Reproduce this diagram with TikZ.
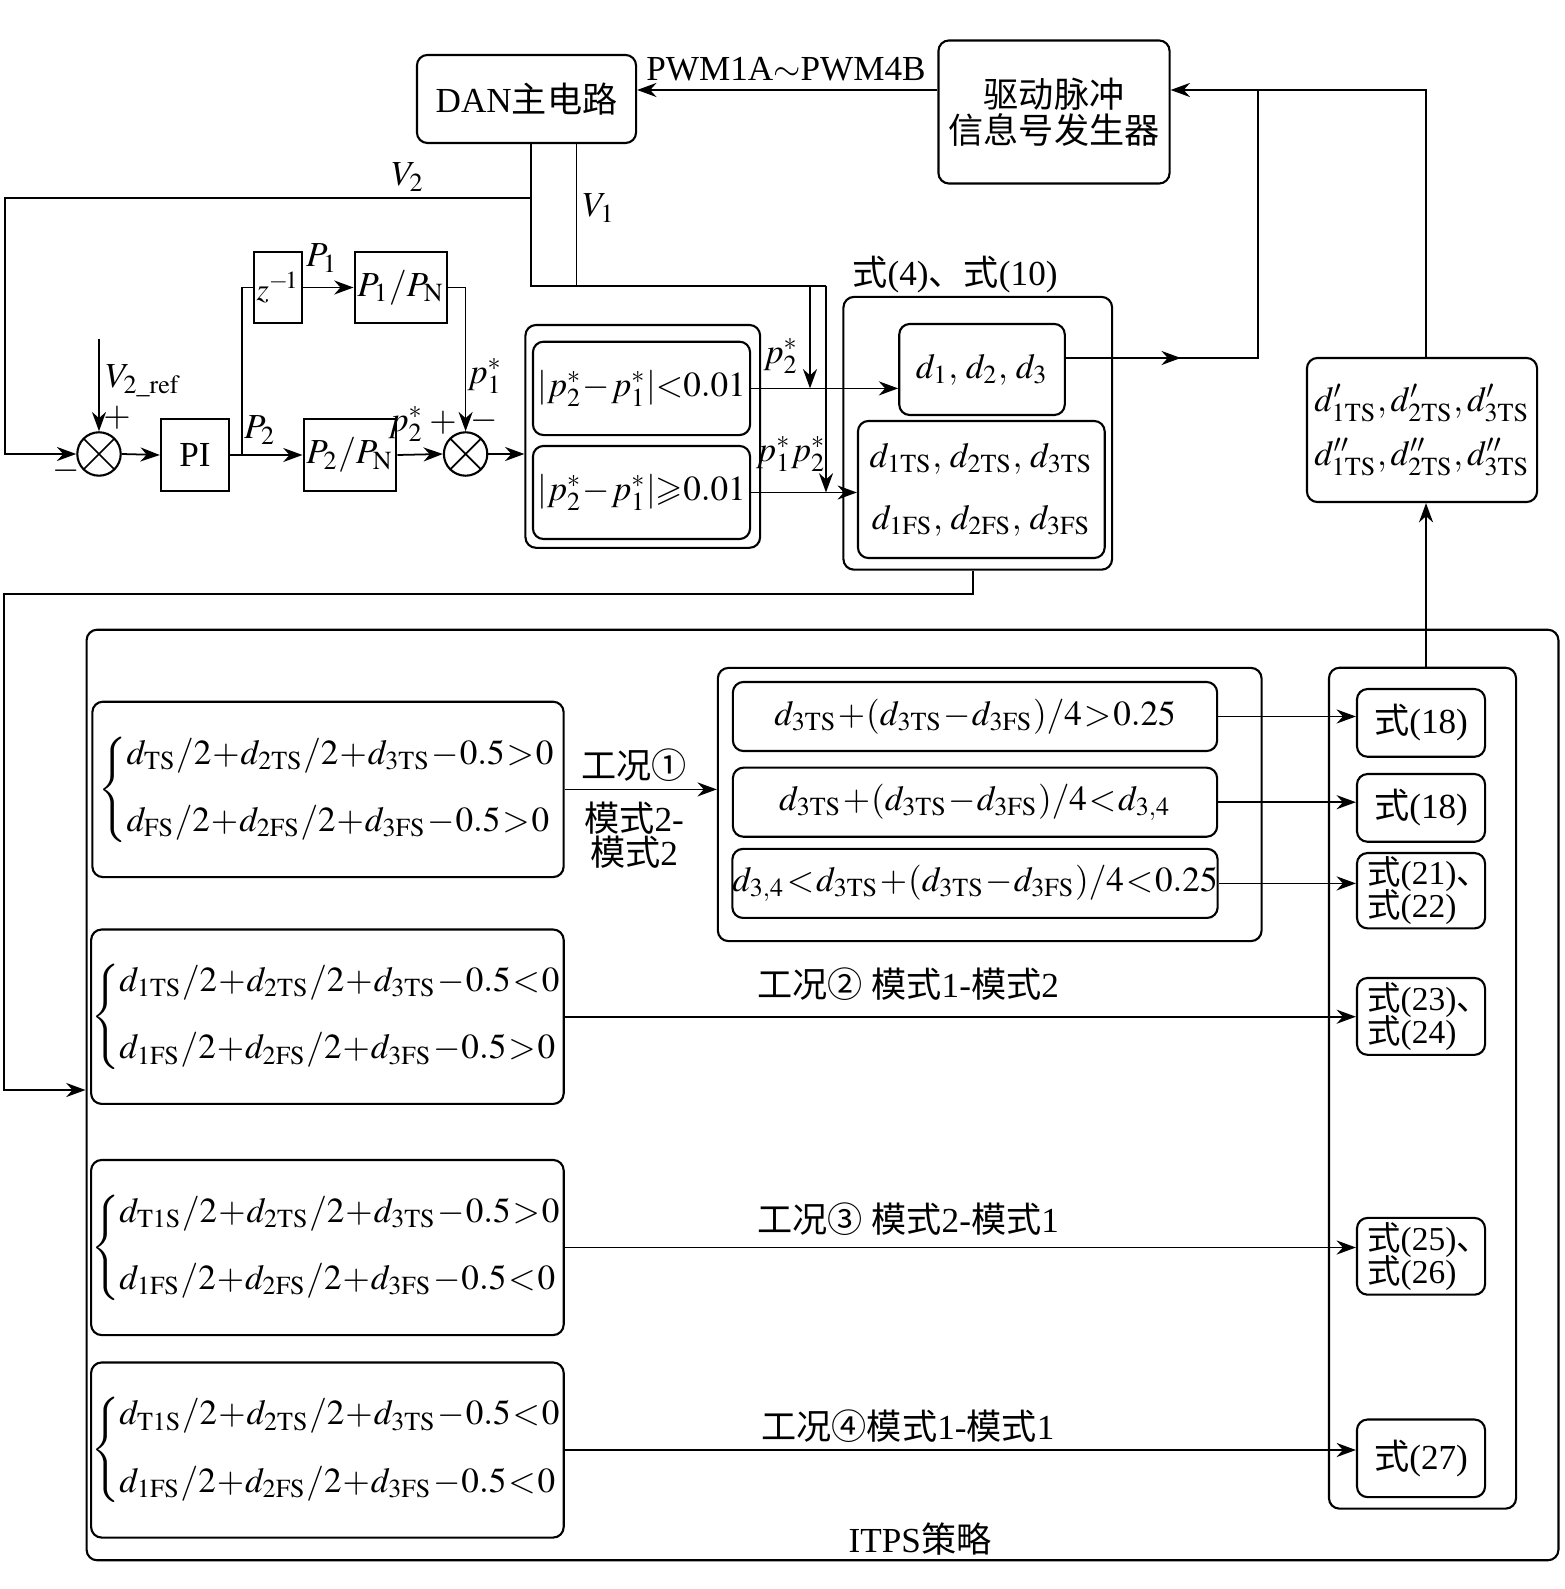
\documentclass[tikz,border=0pt]{standalone}
\usepackage{amsmath}
\usepackage{mathptmx}
\usepackage{amssymb}
\usepackage[no-math]{fontspec}
\setmainfont{Liberation Serif}
\newfontfamily\cjk{Noto Sans CJK SC}
\usetikzlibrary{arrows.meta, calc, positioning}

\newcommand{\zh}[1]{{\cjk #1}}
\newcommand{\rs}[1]{\mathrm{#1}}
\newcommand{\dun}{\makebox[0.55em][l]{\zh{、}}}
\newcommand{\tightmath}{\medmuskip=0.5mu\relax\thickmuskip=1mu\relax}

\tikzset{
  line/.style={line width=0.5pt},
  conn/.style={line width=0.5pt, -{Stealth[length=5.5pt, width=4pt]}},
  box/.style={draw, line width=0.6pt, inner sep=0pt, align=center},
  rbox/.style={box, rounded corners=3pt},
  eqbox/.style={rbox, minimum width=1.28cm, align=left, font=\fontsize{9.5pt}{10pt}\selectfont},
  sumnode/.style={draw, line width=0.6pt, circle, minimum size=0.434cm, inner sep=0pt,
    path picture={\draw[line width=0.5pt] (path picture bounding box.south west) -- (path picture bounding box.north east)
      (path picture bounding box.north west) -- (path picture bounding box.south east);}},
  lbl/.style={inner sep=1pt},
}

\begin{document}
\begin{tikzpicture}[x=0.01cm, y=-0.01cm, font=\fontsize{10pt}{12pt}\selectfont\tightmath]
\useasboundingbox (0,0) rectangle (1564,1589);

% top blocks
\node[rbox, minimum width=2.19cm, minimum height=0.88cm] (dan) at (526.5,99) {DAN\zh{主电路}};
\node[rbox, minimum width=2.31cm, minimum height=1.43cm] (drv) at (1054,112) {\zh{驱动脉冲}\\[-0.06cm]\zh{信息号发生器}};
\node[rbox, minimum width=2.30cm, minimum height=1.44cm] (dp) at (1422,430)
  {$d'_{1\rs{TS}}, d'_{2\rs{TS}}, d'_{3\rs{TS}}$\\[0.12cm]$d''_{1\rs{TS}}, d''_{2\rs{TS}}, d''_{3\rs{TS}}$};

% control loop
\node[sumnode] (sum1) at (99,454) {};
\node[box, minimum width=0.683cm, minimum height=0.72cm] (pi) at (195,455) {PI};
\node[box, minimum width=0.928cm, minimum height=0.72cm] (p2n) at (350,455) {$P_2/P_\rs{N}$};
\node[box, minimum width=0.48cm, minimum height=0.716cm, font=\fontsize{9pt}{10pt}\selectfont] (zinv) at (278,287.5) {$z^{-\!1}$};
\node[box, minimum width=0.924cm, minimum height=0.716cm] (p1n) at (400.8,287.5) {$P_1/P_\rs{N}$};
\node[sumnode] (sum2) at (465.6,454) {};

% conditions
\node[rbox, minimum width=2.345cm, minimum height=2.227cm] (cgrp) at (642.75,436.4) {};
\node[rbox, minimum width=2.17cm, minimum height=0.933cm] (clt) at (641.5,388.4) {$|p_2^*-p_1^*|{<}0.01$};
\node[rbox, minimum width=2.17cm, minimum height=0.93cm] (cge) at (641.5,492.5) {$|p_2^*-p_1^*|{\geqslant}0.01$};

% duty cycles
\node[rbox, minimum width=2.685cm, minimum height=2.726cm] (dgrp) at (977.75,433.3) {};
\node[lbl] (eqlbl) at (955,275) {\zh{式}(4)\zh{、式}(10)};
\node[rbox, minimum width=1.655cm, minimum height=0.91cm] (dabc) at (982,369.5) {$d_1,\, d_2,\, d_3$};
\node[rbox, minimum width=2.466cm, minimum height=1.37cm] (dts) at (981.3,489.5)
  {$d_{1\rs{TS}},\, d_{2\rs{TS}},\, d_{3\rs{TS}}$\\[0.2cm]$d_{1\rs{FS}},\, d_{2\rs{FS}},\, d_{3\rs{FS}}$};

% ITPS
\node[rbox, minimum width=14.71cm, minimum height=9.30cm] (itps) at (822.5,1095) {};
\node[lbl] (itpslbl) at (920,1539) {ITPS\zh{策略}};

\node[rbox, minimum width=4.71cm, minimum height=1.753cm] (caseA) at (328,789.4)
  {$\left\{\begin{array}{@{}l@{}}
    d_{\rs{TS}}/2+d_{2\rs{TS}}/2+d_{3\rs{TS}}-0.5>0\\[0.25cm]
    d_{\rs{FS}}/2+d_{2\rs{FS}}/2+d_{3\rs{FS}}-0.5>0\end{array}\right.$};
\node[rbox, minimum width=4.70cm, minimum height=1.743cm] (caseB) at (327.4,1016.7)
  {$\left\{\begin{array}{@{}l@{}}
    d_{1\rs{TS}}/2+d_{2\rs{TS}}/2+d_{3\rs{TS}}-0.5<0\\[0.25cm]
    d_{1\rs{FS}}/2+d_{2\rs{FS}}/2+d_{3\rs{FS}}-0.5>0\end{array}\right.$};
\node[rbox, minimum width=4.70cm, minimum height=1.75cm] (caseC) at (327.4,1247.5)
  {$\left\{\begin{array}{@{}l@{}}
    d_{\rs{T1S}}/2+d_{2\rs{TS}}/2+d_{3\rs{TS}}-0.5>0\\[0.25cm]
    d_{1\rs{FS}}/2+d_{2\rs{FS}}/2+d_{3\rs{FS}}-0.5<0\end{array}\right.$};
\node[rbox, minimum width=4.70cm, minimum height=1.75cm] (caseD) at (327.4,1450)
  {$\left\{\begin{array}{@{}l@{}}
    d_{\rs{T1S}}/2+d_{2\rs{TS}}/2+d_{3\rs{TS}}-0.5<0\\[0.25cm]
    d_{1\rs{FS}}/2+d_{2\rs{FS}}/2+d_{3\rs{FS}}-0.5<0\end{array}\right.$};

\node[rbox, minimum width=5.434cm, minimum height=2.73cm] (sgrp) at (989.7,804.5) {};
\node[rbox, minimum width=4.84cm, minimum height=0.69cm] (s1) at (975,716.5)
  {$d_{3\rs{TS}}+(d_{3\rs{TS}}-d_{3\rs{FS}})/4>0.25$};
\node[rbox, minimum width=4.84cm, minimum height=0.69cm] (s2) at (975,802.2)
  {$d_{3\rs{TS}}+(d_{3\rs{TS}}-d_{3\rs{FS}})/4<d_{3,4}$};
\node[rbox, minimum width=4.84cm, minimum height=0.69cm] (s3) at (975,883.4)
  {$d_{3,4}<d_{3\rs{TS}}+(d_{3\rs{TS}}-d_{3\rs{FS}})/4<0.25$};

\node[rbox, minimum width=1.87cm, minimum height=8.404cm] (fgrp) at (1422.5,1088.2) {};
\node[rbox, minimum width=1.28cm, minimum height=0.677cm] (f1) at (1421,722.9) {\zh{式}(18)};
\node[rbox, minimum width=1.28cm, minimum height=0.677cm] (f2) at (1421,807.9) {\zh{式}(18)};
\node[eqbox, minimum height=0.753cm] (f3) at (1421,890.7) {\zh{式}(21)\dun\\[-0.02cm]\zh{式}(22)};
\node[eqbox, minimum height=0.768cm] (f4) at (1421,1016.4) {\zh{式}(23)\dun\\[-0.02cm]\zh{式}(24)};
\node[eqbox, minimum height=0.767cm] (f5) at (1421,1256.3) {\zh{式}(25)\dun\\[-0.02cm]\zh{式}(26)};
\node[rbox, minimum width=1.28cm, minimum height=0.775cm] (f6) at (1421,1458.3) {\zh{式}(27)};

% labels
\node[lbl] (lpwm) at (786,69) {PWM1A$\sim$PWM4B};
\node[lbl] (lv2) at (408,177) {$V_2$};
\node[lbl] (lv1) at (599,208) {$V_1$};
\node[lbl] (lp1) at (322,258) {$P_1$};
\node[lbl] (lps1) at (485,376) {$p_1^*$};
\node[lbl] (lref) at (143,381) {$V_{2\_\rs{ref}}$};
\node[lbl] (lplus1) at (117,418) {$+$};
\node[lbl] (lminus1) at (66,471) {$-$};
\node[lbl] (lp2) at (260,430) {$P_2$};
\node[lbl] (lps2) at (406,424) {$p_2^*$};
\node[lbl] (lplus2) at (443,423) {$+$};
\node[lbl] (lminus2) at (484,421) {$-$};
\node[lbl] (lps2b) at (781,356) {$p_2^*$};
\node[lbl] (lps12) at (791,454) {$p_1^*p_2^*$};
\node[lbl] (lcase1) at (634,765) {\zh{工况①}};
\node[lbl] (lmode1) at (634,818) {\zh{模式}2-};
\node[lbl] (lmode1b) at (634,852) {\zh{模式}2};
\node[lbl] (lcase2) at (908,984) {\zh{工况②} \zh{模式}1-\zh{模式}2};
\node[lbl] (lcase3) at (908,1219) {\zh{工况③} \zh{模式}2-\zh{模式}1};
\node[lbl] (lcase4) at (908,1426) {\zh{工况④}\zh{模式}1-\zh{模式}1};

% bend points
\coordinate (drvin) at (1426,90);
\coordinate (dj) at (1258,90);
\coordinate (dout) at (1065,358);
\coordinate (v2j) at (531,198);
\coordinate (vbus) at (531,286);
\coordinate (v1x) at (576.5,286);
\coordinate (tapA) at (810,286);
\coordinate (tapB) at (826,286);
\coordinate (fbl) at (5,198);
\coordinate (vref) at (99,339);
\coordinate (br) at (242,454);
\coordinate (dgo) at (973,594);
\coordinate (fb2) at (4,594);
\coordinate (itin) at (4,1090);

% connectors
\draw[conn] (drv.west |- drvin) -- (dan.east |- drvin);
\draw[conn] (dp.north -| drvin) -- (drvin) -- (drv.east |- drvin);
\draw[conn] (dout) -- ($(dout)!0.6!(dout -| dj)$);
\draw[line] (dout) -- (dout -| dj) -- (dj);
\draw[conn] (fgrp.north -| drvin) -- (dp.south -| drvin);

\draw[line] (dan.south -| v2j) -- (vbus) -- (tapB);
\draw[line] (dan.south -| v1x) -- (v1x);
\draw[conn] (v2j) -- (fbl) -- (fbl |- sum1) -- (sum1.west);
\draw[conn] (tapA) -- (tapA |- clt.east);
\draw[conn] (tapB) -- (tapB |- cge.east);
\draw[conn] (clt.east) -- (clt.east -| dabc.west);
\draw[conn] (cge.east) -- (cge.east -| dts.west);

\draw[conn] (vref) -- (sum1.north);
\draw[conn] (sum1.east) -- (pi.west);
\draw[conn] (pi.east) -- (p2n.west);
\draw[conn] (p2n.east) -- (sum2.west);
\draw[conn] (sum2.east) -- (sum2.east -| cgrp.west);
\draw[line] (br) |- (zinv.west);
\draw[conn] (zinv.east) -- (p1n.west);
\draw[conn] (p1n.east) -| (sum2.north);

\draw[conn] (dgrp.south -| dgo) -- (dgo) -- (fb2) -- (itin) -- (itin -| itps.west);

\draw[conn] (caseA.east) -- (caseA.east -| sgrp.west);
\draw[conn] (s1.east) -- (s1.east -| f1.west);
\draw[conn] (s2.east) -- (s2.east -| f2.west);
\draw[conn] (s3.east) -- (s3.east -| f3.west);
\draw[conn] (caseB.east) -- (caseB.east -| f4.west);
\draw[conn] (caseC.east) -- (caseC.east -| f5.west);
\draw[conn] (caseD.east) -- (caseD.east -| f6.west);
\end{tikzpicture}
\end{document}
